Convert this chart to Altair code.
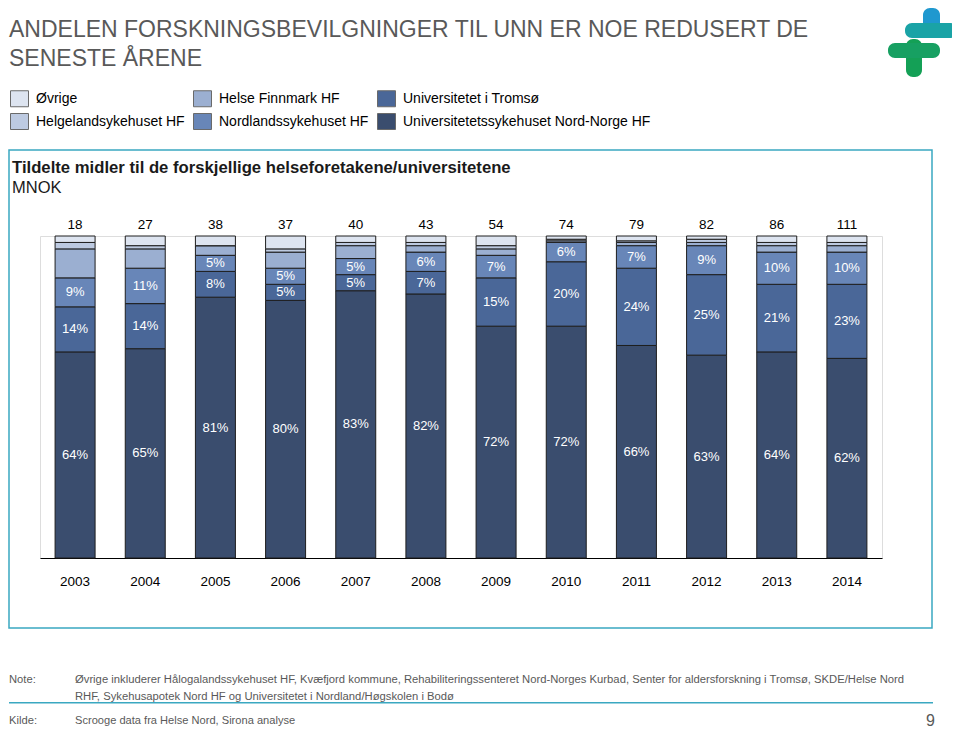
import altair as alt
import pandas as pd

FONT = "Liberation Sans, Arial, sans-serif"

# ---------------- data ----------------
years = ["2003", "2004", "2005", "2006", "2007", "2008", "2009", "2010", "2011", "2012", "2013", "2014"]
totals = [18, 27, 38, 37, 40, 43, 54, 74, 79, 82, 86, 111]

unn = [64, 65, 81, 80, 83, 82, 72, 72, 66, 63, 64, 62]
uit = [14, 14, 8, 5, 5, 7, 15, 20, 24, 25, 21, 23]
nordland = [9, 11, 5, 5, 5, 6, 7, 6, 7, 9, 10, 10]
finnmark = [9, 6, 3, 5, 4, 2, 2, 0.5, 1, 1, 2, 2]
helgeland = [2, 1, 0, 1, 1, 1, 1, 0.5, 0.5, 1, 1, 1]
ovrige = [2, 3, 3, 4, 2, 2, 3, 1, 1.5, 1, 2, 2]

series_names = [
    "Universitetetssykehuset Nord-Norge HF",
    "Universitetet i Tromsø",
    "Nordlandssykehuset HF",
    "Helse Finnmark HF",
    "Helgelandsykehuset HF",
    "Øvrige",
]
series_values = [unn, uit, nordland, finnmark, helgeland, ovrige]
series_colors = ["#3a4d6e", "#4a6798", "#6886b8", "#9bafd1", "#bdcae1", "#dde4f0"]
labelled_series = 3  # the three bottom series carry percentage labels

# legend grid is filled column by column
legend_order = [
    "Øvrige",
    "Helgelandsykehuset HF",
    "Helse Finnmark HF",
    "Nordlandssykehuset HF",
    "Universitetet i Tromsø",
    "Universitetetssykehuset Nord-Norge HF",
]
color_of = dict(zip(series_names, series_colors))
legend_colors = [color_of[n] for n in legend_order]

rows = []
for si, (name, vals) in enumerate(zip(series_names, series_values)):
    for yr, v in zip(years, vals):
        rows.append({"year": yr, "series": name, "value": v, "order": si,
                     "label": f"{v:g}%"})
df = pd.DataFrame(rows)
tot_df = pd.DataFrame({"year": years, "total": totals})

# ---------------- chart ----------------
x_enc = alt.X(
    "year:N",
    sort=years,
    scale=alt.Scale(paddingInner=0.43, paddingOuter=0.215),
    axis=alt.Axis(title=None, labelAngle=0, ticks=False, domainColor="#000000",
                  domainWidth=1, labelFontSize=13.5, labelPadding=16,
                  labelColor="#000000", labelFont=FONT, grid=False),
)
y_scale = alt.Scale(domain=[0, 100], nice=False, zero=True)

bars = alt.Chart(df).mark_bar(stroke="#1e1e1e", strokeWidth=1).encode(
    x=x_enc,
    y=alt.Y("value:Q", stack="zero", scale=y_scale, axis=None),
    color=alt.Color(
        "series:N",
        scale=alt.Scale(domain=legend_order, range=legend_colors),
        legend=alt.Legend(
            orient="none", legendX=-29, legendY=-146, columns=3, title=None,
            symbolType="M-1.125,-1H1.125V1H-1.125Z", symbolSize=256,
            symbolStrokeColor="#6a6a6a", symbolStrokeWidth=1, symbolOpacity=1,
            labelFontSize=14, labelFont=FONT, labelColor="#000000",
            columnPadding=6, rowPadding=2, labelOffset=8, labelLimit=400,
        ),
    ),
    order=alt.Order("order:Q", sort="ascending"),
)

labels = (
    alt.Chart(df)
    .transform_stack(stack="value", groupby=["year"],
                     sort=[alt.SortField("order", "ascending")], as_=["v0", "v1"])
    .transform_filter(f"datum.order < {labelled_series}")
    .transform_calculate(mid="(datum.v0 + datum.v1) / 2")
    .mark_text(color="white", fontSize=13, font=FONT, baseline="middle")
    .encode(x=alt.X("year:N", sort=years), y=alt.Y("mid:Q", scale=y_scale), text="label:N")
)

tot_text = alt.Chart(tot_df).mark_text(
    fontSize=13.5, font=FONT, color="#000000", baseline="middle", dy=-11
).encode(x=alt.X("year:N", sort=years), y=alt.datum(100), text="total:Q")


def txt(text, x, y, size, color="#000000", weight="normal", align="left"):
    return alt.Chart(pd.DataFrame({"t": [text]})).mark_text(
        align=align, baseline="middle", fontSize=size, font=FONT,
        color=color, fontWeight=weight,
    ).encode(x=alt.value(x), y=alt.value(y), text="t:N")


def box(x, x2, y, y2, **kw):
    return alt.Chart(pd.DataFrame({"a": [0]})).mark_rect(**kw).encode(
        x=alt.value(x), x2=alt.value(x2), y=alt.value(y), y2=alt.value(y2))


# page -> plot offsets: plot origin sits at page (40, 236)
frame = box(-31, 892, -86, 392, fill="white", fillOpacity=0, stroke="#3aa8c1", strokeWidth=1.5)
note_line = box(-31, 893, 466, 467.5, fill="#3aa8c1")

logo = [
    box(883, 900, -228, -198, fill="#1f98cf", cornerRadius=7),
    box(865, 917, -213, -198, fill="#1aa3a6", cornerRadius=7),
    box(866, 882, -197, -159, fill="#14a056", cornerRadius=7),
    box(848, 900, -193, -178, fill="#17a062", cornerRadius=7),
]

texts = [
    txt("ANDELEN FORSKNINGSBEVILGNINGER TIL UNN ER NOE REDUSERT DE", -31, -206, 23, "#595959"),
    txt("SENESTE ÅRENE", -31, -177, 23, "#595959"),
    txt("Tildelte midler til de forskjellige helseforetakene/universitetene", -28, -68, 16.7, "#1a1a1a", "bold"),
    txt("MNOK", -28, -48, 16.5, "#1a1a1a"),
    txt("Note:", -31, 444, 11.2, "#595959"),
    txt("Øvrige inkluderer Hålogalandssykehuset HF, Kvæfjord kommune, Rehabiliteringssenteret Nord-Norges Kurbad, Senter for aldersforskning i Tromsø, SKDE/Helse Nord",
        35, 444, 11.25, "#595959"),
    txt("RHF, Sykehusapotek Nord HF og Universitetet i Nordland/Høgskolen i Bodø", 35, 461, 11.25, "#595959"),
    txt("Kilde:", -31, 485, 11.2, "#595959"),
    txt("Scrooge data fra Helse Nord, Sirona analyse", 35, 485, 11.1, "#595959"),
    txt("9", 895, 485, 16, "#595959", align="right"),
]

chart = alt.layer(frame, note_line, *logo, bars, labels, tot_text, *texts).properties(
    width=842, height=322,
    autosize=alt.AutoSizeParams(type="none"),
    padding={"left": 32, "top": 228, "right": 70, "bottom": 171},
).configure_view(stroke=None).configure(background="white")

chart.save("out.html", embed_options={"renderer": "svg", "actions": False})
